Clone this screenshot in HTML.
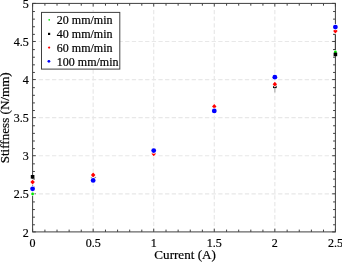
<!DOCTYPE html>
<html><head><meta charset="utf-8"><style>
html,body{margin:0;padding:0;background:#fff;}
svg{display:block;filter:blur(0.35px);}
.t12{font-family:"Liberation Serif",serif;font-size:12px;fill:#000;stroke:#000;stroke-width:0.2px;}
.t13{font-family:"Liberation Serif",serif;font-size:13.1px;fill:#000;stroke:#000;stroke-width:0.2px;}
</style></head><body>
<svg width="342" height="262" viewBox="0 0 342 262">
<rect width="342" height="262" fill="#fff"/>
<line x1="93.16" y1="9.9" x2="93.16" y2="231" stroke="#e8e8e8" stroke-width="1.2" stroke-dasharray="4.3,2.32"/>
<line x1="153.72" y1="9.9" x2="153.72" y2="231" stroke="#e8e8e8" stroke-width="1.2" stroke-dasharray="4.3,2.32"/>
<line x1="214.28" y1="9.9" x2="214.28" y2="231" stroke="#e8e8e8" stroke-width="1.2" stroke-dasharray="4.3,2.32"/>
<line x1="274.84" y1="9.9" x2="274.84" y2="231" stroke="#e8e8e8" stroke-width="1.2" stroke-dasharray="4.3,2.32"/>
<line x1="38.7" y1="193.82" x2="335" y2="193.82" stroke="#e8e8e8" stroke-width="1.2" stroke-dasharray="4.3,2.35"/>
<line x1="38.7" y1="155.73" x2="335" y2="155.73" stroke="#e8e8e8" stroke-width="1.2" stroke-dasharray="4.3,2.35"/>
<line x1="38.7" y1="117.65" x2="335" y2="117.65" stroke="#e8e8e8" stroke-width="1.2" stroke-dasharray="4.3,2.35"/>
<line x1="38.7" y1="79.57" x2="335" y2="79.57" stroke="#e8e8e8" stroke-width="1.2" stroke-dasharray="4.3,2.35"/>
<line x1="38.7" y1="41.48" x2="335" y2="41.48" stroke="#e8e8e8" stroke-width="1.2" stroke-dasharray="4.3,2.35"/>
<path d="M32.60,231.90v-3.2M32.60,3.40v3.2M44.91,231.90v-2.3M44.91,3.40v2.3M57.02,231.90v-2.3M57.02,3.40v2.3M69.14,231.90v-2.3M69.14,3.40v2.3M81.25,231.90v-2.3M81.25,3.40v2.3M93.16,231.90v-3.2M93.16,3.40v3.2M105.47,231.90v-2.3M105.47,3.40v2.3M117.58,231.90v-2.3M117.58,3.40v2.3M129.70,231.90v-2.3M129.70,3.40v2.3M141.81,231.90v-2.3M141.81,3.40v2.3M153.72,231.90v-3.2M153.72,3.40v3.2M166.03,231.90v-2.3M166.03,3.40v2.3M178.14,231.90v-2.3M178.14,3.40v2.3M190.26,231.90v-2.3M190.26,3.40v2.3M202.37,231.90v-2.3M202.37,3.40v2.3M214.28,231.90v-3.2M214.28,3.40v3.2M226.59,231.90v-2.3M226.59,3.40v2.3M238.70,231.90v-2.3M238.70,3.40v2.3M250.82,231.90v-2.3M250.82,3.40v2.3M262.93,231.90v-2.3M262.93,3.40v2.3M274.84,231.90v-3.2M274.84,3.40v3.2M287.15,231.90v-2.3M287.15,3.40v2.3M299.26,231.90v-2.3M299.26,3.40v2.3M311.38,231.90v-2.3M311.38,3.40v2.3M323.49,231.90v-2.3M323.49,3.40v2.3M335.40,231.90v-3.2M335.40,3.40v3.2M32.60,231.90h3.2M335.40,231.90h-3.2M32.60,224.78h2.3M335.40,224.78h-2.3M32.60,217.17h2.3M335.40,217.17h-2.3M32.60,209.55h2.3M335.40,209.55h-2.3M32.60,201.93h2.3M335.40,201.93h-2.3M32.60,193.82h3.2M335.40,193.82h-3.2M32.60,186.70h2.3M335.40,186.70h-2.3M32.60,179.08h2.3M335.40,179.08h-2.3M32.60,171.47h2.3M335.40,171.47h-2.3M32.60,163.85h2.3M335.40,163.85h-2.3M32.60,155.73h3.2M335.40,155.73h-3.2M32.60,148.62h2.3M335.40,148.62h-2.3M32.60,141.00h2.3M335.40,141.00h-2.3M32.60,133.38h2.3M335.40,133.38h-2.3M32.60,125.77h2.3M335.40,125.77h-2.3M32.60,117.65h3.2M335.40,117.65h-3.2M32.60,110.53h2.3M335.40,110.53h-2.3M32.60,102.92h2.3M335.40,102.92h-2.3M32.60,95.30h2.3M335.40,95.30h-2.3M32.60,87.68h2.3M335.40,87.68h-2.3M32.60,79.57h3.2M335.40,79.57h-3.2M32.60,72.45h2.3M335.40,72.45h-2.3M32.60,64.83h2.3M335.40,64.83h-2.3M32.60,57.22h2.3M335.40,57.22h-2.3M32.60,49.60h2.3M335.40,49.60h-2.3M32.60,41.48h3.2M335.40,41.48h-3.2M32.60,34.37h2.3M335.40,34.37h-2.3M32.60,26.75h2.3M335.40,26.75h-2.3M32.60,19.13h2.3M335.40,19.13h-2.3M32.60,11.52h2.3M335.40,11.52h-2.3M32.60,3.40h3.2M335.40,3.40h-3.2" stroke="#404040" stroke-width="1" fill="none"/>
<rect x="32.6" y="3.4" width="302.80" height="228.50" fill="none" stroke="#404040" stroke-width="1"/>
<path d="M90.8,177.4h5.3" stroke="#808080" stroke-width="1"/>
<path d="M274.84,87v5.6" stroke="#b0b0b0" stroke-width="1.2"/>
<path d="M335.40,34.3v15.2M333.60,34.3h1.8M333.60,49.5h1.8" stroke="#404040" stroke-width="1"/>
<circle cx="32.60" cy="194.00" r="2.0999999999999996" fill="#fff"/>
<circle cx="32.60" cy="194.00" r="1.4" fill="#00e600"/>
<circle cx="93.16" cy="181.00" r="2.0999999999999996" fill="#fff"/>
<circle cx="93.16" cy="181.00" r="1.4" fill="#00e600"/>
<circle cx="153.72" cy="154.60" r="2.0999999999999996" fill="#fff"/>
<circle cx="153.72" cy="154.60" r="1.4" fill="#00e600"/>
<circle cx="214.28" cy="111.00" r="2.0999999999999996" fill="#fff"/>
<circle cx="214.28" cy="111.00" r="1.4" fill="#00e600"/>
<circle cx="274.84" cy="84.50" r="2.0999999999999996" fill="#fff"/>
<circle cx="274.84" cy="84.50" r="1.4" fill="#00e600"/>
<circle cx="335.40" cy="52.00" r="2.0999999999999996" fill="#fff"/>
<circle cx="335.40" cy="52.00" r="1.4" fill="#00e600"/>
<rect x="30.80" y="175.00" width="3.6" height="3.6" fill="#000000"/>
<rect x="91.36" y="178.60" width="3.6" height="3.6" fill="#000000"/>
<rect x="151.92" y="149.20" width="3.6" height="3.6" fill="#000000"/>
<rect x="212.48" y="109.10" width="3.6" height="3.6" fill="#000000"/>
<rect x="273.04" y="84.50" width="3.6" height="3.6" fill="#000000"/>
<rect x="333.60" y="52.60" width="3.6" height="3.6" fill="#000000"/>
<path d="M32.60,178.72L35.78,182.10L32.60,185.48L29.42,182.10Z" fill="#fff"/>
<path d="M32.60,179.70L34.80,182.10L32.60,184.50L30.40,182.10Z" fill="#ff0000"/>
<path d="M93.16,171.62L96.34,175.00L93.16,178.38L89.98,175.00Z" fill="#fff"/>
<path d="M93.16,172.60L95.36,175.00L93.16,177.40L90.96,175.00Z" fill="#ff0000"/>
<path d="M153.72,150.42L156.90,153.80L153.72,157.18L150.54,153.80Z" fill="#fff"/>
<path d="M153.72,151.40L155.92,153.80L153.72,156.20L151.52,153.80Z" fill="#ff0000"/>
<path d="M214.28,103.02L217.46,106.40L214.28,109.78L211.10,106.40Z" fill="#fff"/>
<path d="M214.28,104.00L216.48,106.40L214.28,108.80L212.08,106.40Z" fill="#ff0000"/>
<path d="M274.84,80.82L278.02,84.20L274.84,87.58L271.66,84.20Z" fill="#fff"/>
<path d="M274.84,81.80L277.04,84.20L274.84,86.60L272.64,84.20Z" fill="#ff0000"/>
<path d="M335.40,27.62L338.58,31.00L335.40,34.38L332.22,31.00Z" fill="#fff"/>
<path d="M335.40,28.60L337.60,31.00L335.40,33.40L333.20,31.00Z" fill="#ff0000"/>
<circle cx="32.60" cy="188.80" r="3.0999999999999996" fill="#fff"/>
<circle cx="32.60" cy="188.80" r="2.4" fill="#0000ff"/>
<circle cx="93.16" cy="180.40" r="3.0999999999999996" fill="#fff"/>
<circle cx="93.16" cy="180.40" r="2.4" fill="#0000ff"/>
<circle cx="153.72" cy="150.60" r="3.0999999999999996" fill="#fff"/>
<circle cx="153.72" cy="150.60" r="2.4" fill="#0000ff"/>
<circle cx="214.28" cy="110.90" r="3.0999999999999996" fill="#fff"/>
<circle cx="214.28" cy="110.90" r="2.4" fill="#0000ff"/>
<circle cx="274.84" cy="77.20" r="3.0999999999999996" fill="#fff"/>
<circle cx="274.84" cy="77.20" r="2.4" fill="#0000ff"/>
<circle cx="335.40" cy="27.10" r="3.0999999999999996" fill="#fff"/>
<circle cx="335.40" cy="27.10" r="2.4" fill="#0000ff"/>
<rect x="41.5" y="12.4" width="78.3" height="56.7" fill="#fff" stroke="#404040" stroke-width="1"/>
<circle cx="49.20" cy="19.85" r="0.85" fill="#00e600"/>
<rect x="48.00" y="32.80" width="2.2" height="2.2" fill="#000000"/>
<path d="M49.10,46.20L50.40,47.60L49.10,49.00L47.80,47.60Z" fill="#ff0000"/>
<circle cx="48.90" cy="61.30" r="1.4" fill="#0000ff"/>
<text x="56.8" y="24.1" class="t12">20 mm/min</text>
<text x="56.8" y="38.2" class="t12">40 mm/min</text>
<text x="56.8" y="52.0" class="t12">60 mm/min</text>
<text x="56.8" y="65.9" class="t12">100 mm/min</text>
<text x="28.8" y="236.5" class="t12" text-anchor="end">2</text>
<text x="28.8" y="198.4" class="t12" text-anchor="end">2.5</text>
<text x="28.8" y="160.3" class="t12" text-anchor="end">3</text>
<text x="28.8" y="122.2" class="t12" text-anchor="end">3.5</text>
<text x="28.8" y="84.1" class="t12" text-anchor="end">4</text>
<text x="28.8" y="46.0" class="t12" text-anchor="end">4.5</text>
<text x="28.8" y="7.9" class="t12" text-anchor="end">5</text>
<text x="32.6" y="246.6" class="t12" text-anchor="middle">0</text>
<text x="93.2" y="246.6" class="t12" text-anchor="middle">0.5</text>
<text x="153.7" y="246.6" class="t12" text-anchor="middle">1</text>
<text x="214.3" y="246.6" class="t12" text-anchor="middle">1.5</text>
<text x="274.8" y="246.6" class="t12" text-anchor="middle">2</text>
<text x="335.4" y="246.6" class="t12" text-anchor="middle">2.5</text>
<text x="185.1" y="259.3" class="t13" text-anchor="middle">Current (A)</text>
<text transform="translate(9.3,117.8) rotate(-90)" x="0" y="0" class="t13" text-anchor="middle">Stiffness (N/mm)</text>
</svg>
</body></html>
